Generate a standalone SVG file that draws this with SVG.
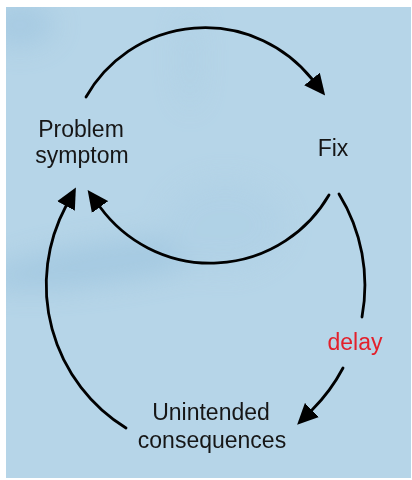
<svg xmlns="http://www.w3.org/2000/svg" width="412" height="480" viewBox="0 0 412 480">
  <style>
    .label { font-family: "Liberation Sans", Arial, sans-serif; font-size: 23px; fill: #161616; text-anchor: middle; }
    .delay { font-family: "Liberation Sans", Arial, sans-serif; font-size: 23px; fill: #e3202b; text-anchor: middle; }
    .link { fill: none; stroke: #000; stroke-width: 2.8; stroke-linecap: round; }
  </style>
  <defs>
    <marker id="head" markerUnits="userSpaceOnUse" markerWidth="21" markerHeight="21" refX="0" refY="10" orient="auto" viewBox="0 0 21 20">
      <path d="M0,0 L21,10 L0,20 Z" fill="#000"/>
    </marker>
    <filter id="soft" x="-50%" y="-50%" width="200%" height="200%">
      <feGaussianBlur stdDeviation="14"/>
    </filter>
    <clipPath id="panel">
      <rect x="6" y="7" width="405" height="471"/>
    </clipPath>
  </defs>

  <!-- backdrop -->
  <rect x="0" y="0" width="412" height="480" fill="#ffffff"/>
  <rect x="6" y="7" width="405" height="471" fill="#b6d5e8"/>
  <g clip-path="url(#panel)">
    <g filter="url(#soft)" opacity="0.45">
      <ellipse cx="20" cy="25" rx="35" ry="22" fill="#94bedb"/>
      <ellipse cx="110" cy="262" rx="130" ry="20" fill="#8fbbd9" transform="rotate(-8 110 262)"/>
      <ellipse cx="190" cy="60" rx="10" ry="50" fill="#a8cbe1"/>
      <ellipse cx="225" cy="225" rx="60" ry="45" fill="#abcee4"/>
    </g>
  </g>

  <!-- connectors -->
  <g id="connectors">
    <path class="link" d="M86,97 A137,137 0 0 1 312,79" marker-end="url(#head)"/>
    <path class="link" d="M329,195 A137,137 0 0 1 100,207" marker-end="url(#head)"/>
    <path class="link" d="M339,194 A174,174 0 0 1 362,317"/>
    <path class="link" d="M343,368 A174,174 0 0 1 312,410" marker-end="url(#head)"/>
    <path class="link" d="M126,428 A168,168 0 0 1 66,206" marker-end="url(#head)"/>
  </g>

  <!-- nodes -->
  <g id="problem-symptom">
    <text class="label" x="81" y="137">Problem</text>
    <text class="label" x="82" y="163">symptom</text>
  </g>
  <g id="fix">
    <text class="label" x="333" y="156">Fix</text>
  </g>
  <g id="unintended-consequences">
    <text class="label" x="211" y="420">Unintended</text>
    <text class="label" x="212" y="448">consequences</text>
  </g>
  <g id="delay-label">
    <text class="delay" x="355" y="350">delay</text>
  </g>
</svg>
